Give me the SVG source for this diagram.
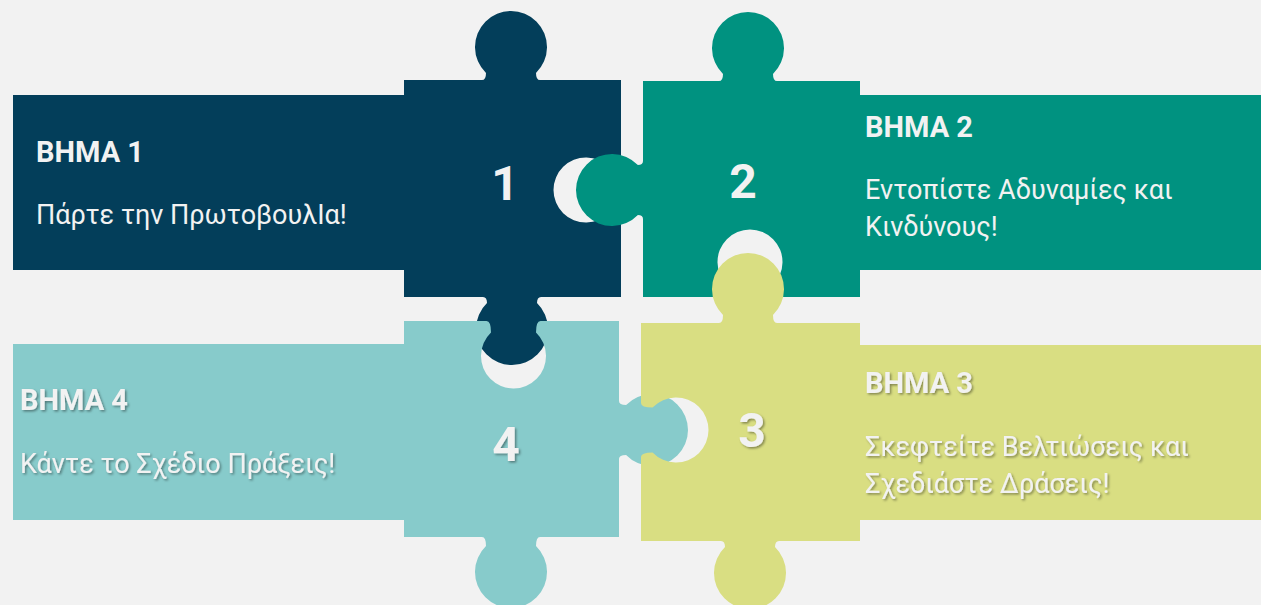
<svg xmlns="http://www.w3.org/2000/svg" width="1261" height="605" viewBox="0 0 1261 605">
<style>
.p1{fill:#033e5a}.p2{fill:#009280}.p3{fill:#d9de82}.p4{fill:#87cbcb}
.h{font-family:Roboto,"Liberation Sans",sans-serif;font-weight:700;font-size:29px;fill:#f2f2f2}
.b{font-family:Roboto,"Liberation Sans",sans-serif;font-weight:400;font-size:27px;fill:#f2f2f2}
.n{font-family:Roboto,"Liberation Sans",sans-serif;font-weight:700;font-size:48px;fill:#f2f2f2;text-anchor:middle}
.sh{filter:url(#ts)}
</style>
<defs>
<filter id="ts" x="-10%" y="-30%" width="120%" height="160%">
<feDropShadow dx="1.5" dy="1.5" stdDeviation="0.8" flood-color="#000" flood-opacity="0.4"/>
</filter>
<mask id="m1" maskUnits="userSpaceOnUse" x="0" y="0" width="1261" height="605">
<rect width="1261" height="605" fill="#fff"/>
<path fill="#000" d="M624,163 L621,163 Q621,167.5 609.45,167.5 A32.5 32.5 0 1 0 609.45,212.5 Q621,212.5 621,217 L624,217 Z"/>
</mask>
<mask id="m2" maskUnits="userSpaceOnUse" x="0" y="0" width="1261" height="605">
<rect width="1261" height="605" fill="#fff"/>
<path fill="#000" d="M723,300 L723,297 Q727.5,297 727.5,285.45 A32.5 32.5 0 1 1 772.5,285.45 Q772.5,297 777,297 L777,300 Z"/>
</mask>
<mask id="m3" maskUnits="userSpaceOnUse" x="0" y="0" width="1261" height="605">
<rect width="1261" height="605" fill="#fff"/>
<path fill="#000" d="M638,403 L641,403 Q641,407.5 652.55,407.5 A32.5 32.5 0 1 1 652.55,452.5 Q641,452.5 641,457 L638,457 Z"/>
</mask>
<mask id="m4" maskUnits="userSpaceOnUse" x="0" y="0" width="1261" height="605">
<rect width="1261" height="605" fill="#fff"/>
<path fill="#000" d="M486.5,318 L486.5,321 Q491,321 491,332.55 A32.5 32.5 0 1 0 536,332.55 Q536,321 540.5,321 L540.5,318 Z"/>
</mask>
</defs>
<rect width="1261" height="605" fill="#f2f2f2"/>

<g id="step1">
<g class="p1" mask="url(#m1)">
<rect x="13" y="95" width="392" height="175"/>
<rect x="404" y="80" width="217" height="217"/>
<path d="M482,82 L482,80 Q486,80 486,72.9 A36 36 0 1 1 536,72.9 Q536,80 540,80 L540,82 Z"/>
<path d="M483,295 L483,297 Q487,297 487,303.1 A36 36 0 1 0 537,303.1 Q537,297 541,297 L541,295 Z"/>
</g>
<text class="h" x="36" y="162">ΒΗΜΑ 1</text>
<text class="b" x="36" y="224">Πάρτε την ΠρωτοβουλΙα!</text>
<text class="n" x="505" y="200">1</text>
</g>

<g id="step2">
<g class="p2" mask="url(#m2)">
<rect x="643" y="81" width="217" height="216"/>
<rect x="859" y="95" width="402" height="175"/>
<path d="M719,83 L719,81 Q723,81 723,73.9 A36 36 0 1 1 773,73.9 Q773,81 777,81 L777,83 Z"/>
<path d="M645,161 L643,161 Q643,165 637.9,165 A36 36 0 1 0 637.9,215 Q643,215 643,219 L645,219 Z"/>
</g>
<text class="h" x="865" y="137">ΒΗΜΑ 2</text>
<text class="b" x="865" y="199">Εντοπίστε Αδυναμίες και</text>
<text class="b" x="865" y="235.5">Κινδύνους!</text>
<text class="n" x="743" y="198">2</text>
</g>

<g id="step4">
<g class="p4" mask="url(#m4)">
<rect x="13" y="344" width="392" height="176"/>
<rect x="404" y="321" width="215" height="216"/>
<path d="M617,401 L619,401 Q619,405 626.1,405 A36 36 0 1 1 626.1,455 Q619,455 619,459 L617,459 Z"/>
<path d="M482,535 L482,537 Q486,537 486,546.1 A36 36 0 1 0 536,546.1 Q536,537 540,537 L540,535 Z"/>
</g>
<g class="sh">
<text class="h" x="20" y="410">ΒΗΜΑ 4</text>
<text class="b" x="20" y="472.5">Κάντε το Σχέδιο Πράξεις!</text>
<text class="n" x="506" y="461">4</text>
</g>
</g>

<g id="step3">
<g class="p3" mask="url(#m3)">
<rect x="641" y="323" width="219" height="218"/>
<rect x="859" y="345" width="402" height="175"/>
<path d="M719,325 L719,323 Q723,323 723,314.9 A36 36 0 1 1 773,314.9 Q773,323 777,323 L777,325 Z"/>
<path d="M721,539 L721,541 Q725,541 725,547.1 A36 36 0 1 0 775,547.1 Q775,541 779,541 L779,539 Z"/>
</g>
<g class="sh">
<text class="h" x="865" y="393">ΒΗΜΑ 3</text>
<text class="b" x="865" y="456">Σκεφτείτε Βελτιώσεις και</text>
<text class="b" x="865" y="493">Σχεδιάστε Δράσεις!</text>
<text class="n" x="752" y="447">3</text>
</g>
</g>

<g id="connectors"></g>
</svg>
